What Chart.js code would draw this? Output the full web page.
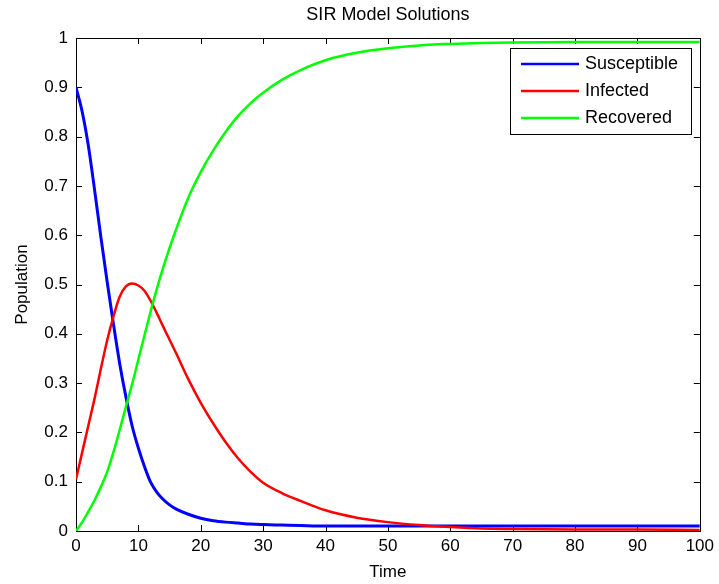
<!DOCTYPE html>
<html>
<head>
<meta charset="utf-8">
<script src="https://cdn.jsdelivr.net/npm/chart.js@4"></script>
<style>
  html, body { margin: 0; padding: 0; background: #fff; }
  canvas { display: block; }
</style>
</head>
<body>
<canvas id="sir-chart" width="719" height="584"></canvas>
<script>
// time points and the three SIR curves
var times = [0, 1, 2, 3, 4, 5, 6, 7, 8, 9, 10, 11, 12, 13, 14, 15, 16, 18, 20, 22, 24, 26, 28, 30, 33, 36, 40, 45, 50, 55, 60, 65, 70, 80, 90, 100];
var susceptible = [0.90, 0.85, 0.78, 0.69, 0.595, 0.505, 0.42, 0.34, 0.272, 0.213, 0.168, 0.13, 0.098, 0.078, 0.064, 0.053, 0.045, 0.034, 0.026, 0.021, 0.018, 0.016, 0.014, 0.013, 0.012, 0.011, 0.010, 0.010, 0.010, 0.010, 0.010, 0.010, 0.010, 0.010, 0.010, 0.010];
var infected = [0.105, 0.16, 0.215, 0.27, 0.33, 0.387, 0.435, 0.475, 0.496, 0.502, 0.498, 0.487, 0.466, 0.441, 0.414, 0.388, 0.362, 0.308, 0.26, 0.218, 0.18, 0.147, 0.12, 0.098, 0.077, 0.061, 0.042, 0.027, 0.018, 0.012, 0.008, 0.005, 0.004, 0.003, 0.003, 0.002];
var recovered = [0, 0.018, 0.040, 0.063, 0.09, 0.12, 0.16, 0.205, 0.252, 0.298, 0.348, 0.398, 0.447, 0.493, 0.535, 0.574, 0.61, 0.676, 0.728, 0.772, 0.81, 0.842, 0.868, 0.889, 0.915, 0.935, 0.955, 0.97, 0.979, 0.985, 0.988, 0.990, 0.991, 0.992, 0.992, 0.992];

var xTicks = [0, 10, 20, 30, 40, 50, 60, 70, 80, 90, 100];
var yTicks = [0, 0.1, 0.2, 0.3, 0.4, 0.5, 0.6, 0.7, 0.8, 0.9, 1];

var FONT = 'Liberation Sans, Arial, Helvetica, sans-serif';

function points(values) {
  return times.map(function (t, i) { return { x: t, y: values[i] }; });
}

// matlab style box with inward ticks on all four sides
var axesBox = {
  id: 'axesBox',
  beforeDatasetsDraw: function (chart) {
    var ctx = chart.ctx, a = chart.chartArea;
    var x = chart.scales.x, y = chart.scales.y;
    ctx.save();
    ctx.strokeStyle = '#000';
    ctx.lineWidth = 1;
    ctx.beginPath();
    xTicks.forEach(function (v) {
      var px = Math.round(x.getPixelForValue(v)) + 0.5;
      ctx.moveTo(px, a.bottom); ctx.lineTo(px, a.bottom - 6);
      ctx.moveTo(px, a.top); ctx.lineTo(px, a.top + 6);
    });
    yTicks.forEach(function (v) {
      var py = Math.round(y.getPixelForValue(v)) + 0.5;
      ctx.moveTo(a.left, py); ctx.lineTo(a.left + 6, py);
      ctx.moveTo(a.right, py); ctx.lineTo(a.right - 6, py);
    });
    ctx.stroke();
    ctx.strokeRect(Math.round(a.left) + 0.5, Math.round(a.top) + 0.5, Math.round(a.width), Math.round(a.height));
    ctx.restore();
  }
};

// legend box in the upper right corner
var boxLegend = {
  id: 'boxLegend',
  afterDatasetsDraw: function (chart) {
    var ctx = chart.ctx, a = chart.chartArea;
    var left = Math.round(a.right) - 190, top = Math.round(a.top) + 10;
    ctx.save();
    ctx.fillStyle = '#fff';
    ctx.fillRect(left, top, 181, 86);
    ctx.strokeStyle = '#000';
    ctx.lineWidth = 1;
    ctx.strokeRect(left + 0.5, top + 0.5, 181, 86);
    ctx.font = '18px ' + FONT;
    ctx.textBaseline = 'middle';
    chart.data.datasets.forEach(function (ds, i) {
      var ry = top + 16 + i * 27;
      ctx.strokeStyle = ds.borderColor;
      ctx.lineWidth = 2.5;
      ctx.beginPath();
      ctx.moveTo(left + 11, ry);
      ctx.lineTo(left + 69, ry);
      ctx.stroke();
      ctx.fillStyle = '#000';
      ctx.fillText(ds.label, left + 75, ry);
    });
    ctx.restore();
  }
};

var ctx = document.getElementById('sir-chart').getContext('2d');
var chart = new Chart(ctx, {
  type: 'line',
  data: {
    datasets: [{
      label: 'Susceptible',
      data: points(susceptible),
      borderColor: '#0000ff',
      borderWidth: 3,
      order: 3
    }, {
      label: 'Infected',
      data: points(infected),
      borderColor: '#ff0000',
      borderWidth: 2.5,
      order: 2
    }, {
      label: 'Recovered',
      data: points(recovered),
      borderColor: '#00ff00',
      borderWidth: 2.5,
      order: 1
    }]
  },
  options: {
    responsive: false,
    animation: false,
    layout: { padding: { left: 0, right: 17, top: 0, bottom: 0 } },
    elements: {
      point: { radius: 0 },
      line: { cubicInterpolationMode: 'monotone', fill: false }
    },
    scales: {
      x: {
        type: 'linear',
        min: 0,
        max: 100,
        grid: { display: false, drawTicks: false },
        border: { display: false },
        afterBuildTicks: function (scale) {
          scale.ticks = xTicks.map(function (v) { return { value: v }; });
        },
        afterFit: function (scale) { scale.height = 53; },
        ticks: {
          color: '#000',
          padding: 5,
          maxRotation: 0,
          autoSkip: false,
          font: { family: FONT, size: 17 }
        },
        title: {
          display: true,
          text: 'Time',
          color: '#000',
          padding: { top: 0, bottom: 1 },
          font: { family: FONT, size: 17 }
        }
      },
      y: {
        type: 'linear',
        min: 0,
        max: 1,
        grid: { display: false, drawTicks: false },
        border: { display: false },
        afterBuildTicks: function (scale) {
          scale.ticks = yTicks.map(function (v) { return { value: v }; });
        },
        afterFit: function (scale) { scale.width = 76; },
        ticks: {
          color: '#000',
          padding: 8,
          font: { family: FONT, size: 17 },
          callback: function (v) { return String(Math.round(v * 10) / 10); }
        },
        title: {
          display: true,
          text: 'Population',
          color: '#000',
          padding: { top: 12, bottom: 0 },
          font: { family: FONT, size: 17 }
        }
      }
    },
    plugins: {
      legend: { display: false },
      tooltip: { enabled: false },
      title: {
        display: true,
        text: 'SIR Model Solutions',
        color: '#000',
        fullSize: false,
        font: { family: FONT, size: 18, weight: 'normal' },
        padding: { top: 4, bottom: 12.4 }
      }
    }
  },
  plugins: [axesBox, boxLegend]
});
</script>
</body>
</html>
